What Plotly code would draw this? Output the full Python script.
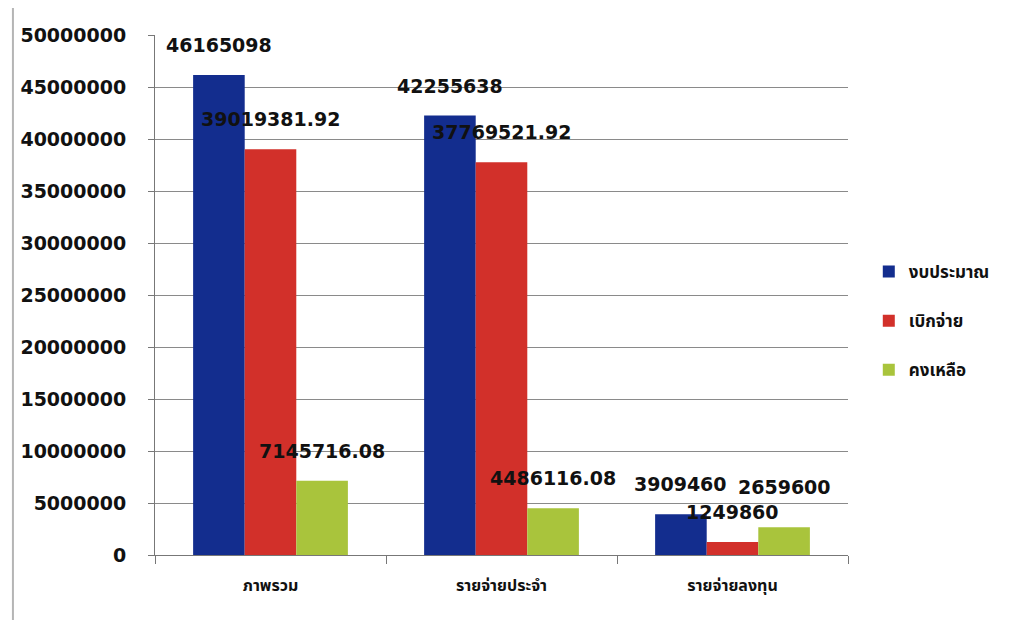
import plotly.graph_objects as go

categories = ["ภาพรวม", "รายจ่ายประจำ", "รายจ่ายลงทุน"]
series_names = ["งบประมาณ", "เบิกจ่าย", "คงเหลือ"]
budget = [46165098, 42255638, 3909460]
disbursed = [39019381.92, 37769521.92, 1249860]
remaining = [7145716.08, 4486116.08, 2659600]
labels_budget = ["46165098", "42255638", "3909460"]
labels_disbursed = ["39019381.92", "37769521.92", "1249860"]
labels_remaining = ["7145716.08", "4486116.08", "2659600"]
colors = ["#132d8e", "#d2302a", "#a9c43c"]
y_ticks = [0, 5000000, 10000000, 15000000, 20000000, 25000000,
           30000000, 35000000, 40000000, 45000000, 50000000]

FONT = "DejaVu Sans"
THAI = "Noto Sans Thai, Noto Sans Thai UI, Loma, Garuda, Noto Sans, sans-serif"

W, H = 1010, 620
ML, MR, MT, MB = 147, 170, 27, 73
BARGAP = 0.33
YMAX = 50000000
LABEL_SIZE = 19
LABEL_GAP = 17

fig = go.Figure()
for name, vals, col in zip(series_names, [budget, disbursed, remaining], colors):
    fig.add_trace(go.Bar(
        x=categories, y=vals, name=name, legendgroup=name,
        marker=dict(color=col, line=dict(width=0)),
    ))

# data labels as annotations placed above each bar (from the data)
plot_w = W - ML - MR
plot_h = H - MT - MB
cat_w = plot_w / len(categories)
bar_w = cat_w * (1 - BARGAP) / len(series_names)
placed = []
for si, (vals, labs) in enumerate(zip([budget, disbursed, remaining],
                                      [labels_budget, labels_disbursed, labels_remaining])):
    for ci, (v, lab) in enumerate(zip(vals, labs)):
        xshift = (si - (len(series_names) - 1) / 2) * bar_w
        cx = ci * cat_w + cat_w / 2 + xshift
        tw = sum(0.38 if ch == "." else 0.696 for ch in lab) * LABEL_SIZE
        th = LABEL_SIZE * 1.2
        bottom = v / YMAX * plot_h + LABEL_GAP
        # simple collision avoidance: lift a label above any overlapping one
        moved = True
        while moved:
            moved = False
            for (px0, px1, py0, py1) in placed:
                if cx - tw / 2 < px1 and cx + tw / 2 > px0 and bottom < py1 and bottom + th > py0:
                    bottom = py1 + 2
                    moved = True
        placed.append((cx - tw / 2, cx + tw / 2, bottom, bottom + th))
        fig.add_annotation(
            x=categories[ci], y=v, xref="x", yref="y",
            text=lab, showarrow=False,
            xshift=xshift, yshift=bottom - v / YMAX * plot_h,
            yanchor="bottom", xanchor="center",
            font=dict(family=FONT, size=LABEL_SIZE, color="#111111", weight="bold"),
        )

# chart-area border (left and top edges visible in the reference)
fig.add_shape(type="line", xref="paper", yref="paper",
              x0=-0.205, x1=-0.205, y0=-0.13, y1=1.06,
              line=dict(color="#b5b5b5", width=2))
fig.add_shape(type="line", xref="paper", yref="paper",
              x0=-0.205, x1=1.24, y0=1.06, y1=1.06,
              line=dict(color="#e4e4e4", width=1.5))

fig.update_layout(
    width=W, height=H,
    margin=dict(l=ML, r=MR, t=MT, b=MB),
    paper_bgcolor="white", plot_bgcolor="white",
    barmode="group", bargap=BARGAP, bargroupgap=0,
    font=dict(family=FONT, color="#111111"),
    legend=dict(
        x=1.03, y=0.45, xanchor="left", yanchor="middle",
        font=dict(family=THAI, size=17, color="#111111", weight="bold"),
        tracegroupgap=24, traceorder="grouped",
        itemwidth=30,
    ),
    showlegend=True,
)
fig.update_yaxes(
    range=[0, YMAX], tickvals=y_ticks,
    ticktext=[str(v) for v in y_ticks],
    showgrid=True, gridcolor="#8a8a8a", gridwidth=1,
    showline=True, linecolor="#777777", linewidth=1,
    ticks="outside", ticklen=6, tickcolor="#777777",
    ticklabelstandoff=18,
    tickfont=dict(family=FONT, size=19, color="#111111", weight="bold"),
    zeroline=False,
)
fig.update_xaxes(
    showline=True, linecolor="#777777", linewidth=1,
    ticks="outside", ticklen=8, tickcolor="#777777", tickson="boundaries",
    tickfont=dict(family=THAI, size=16, color="#111111", weight="bold"),
    ticklabelstandoff=16,
)

fig.write_html("out.html")
